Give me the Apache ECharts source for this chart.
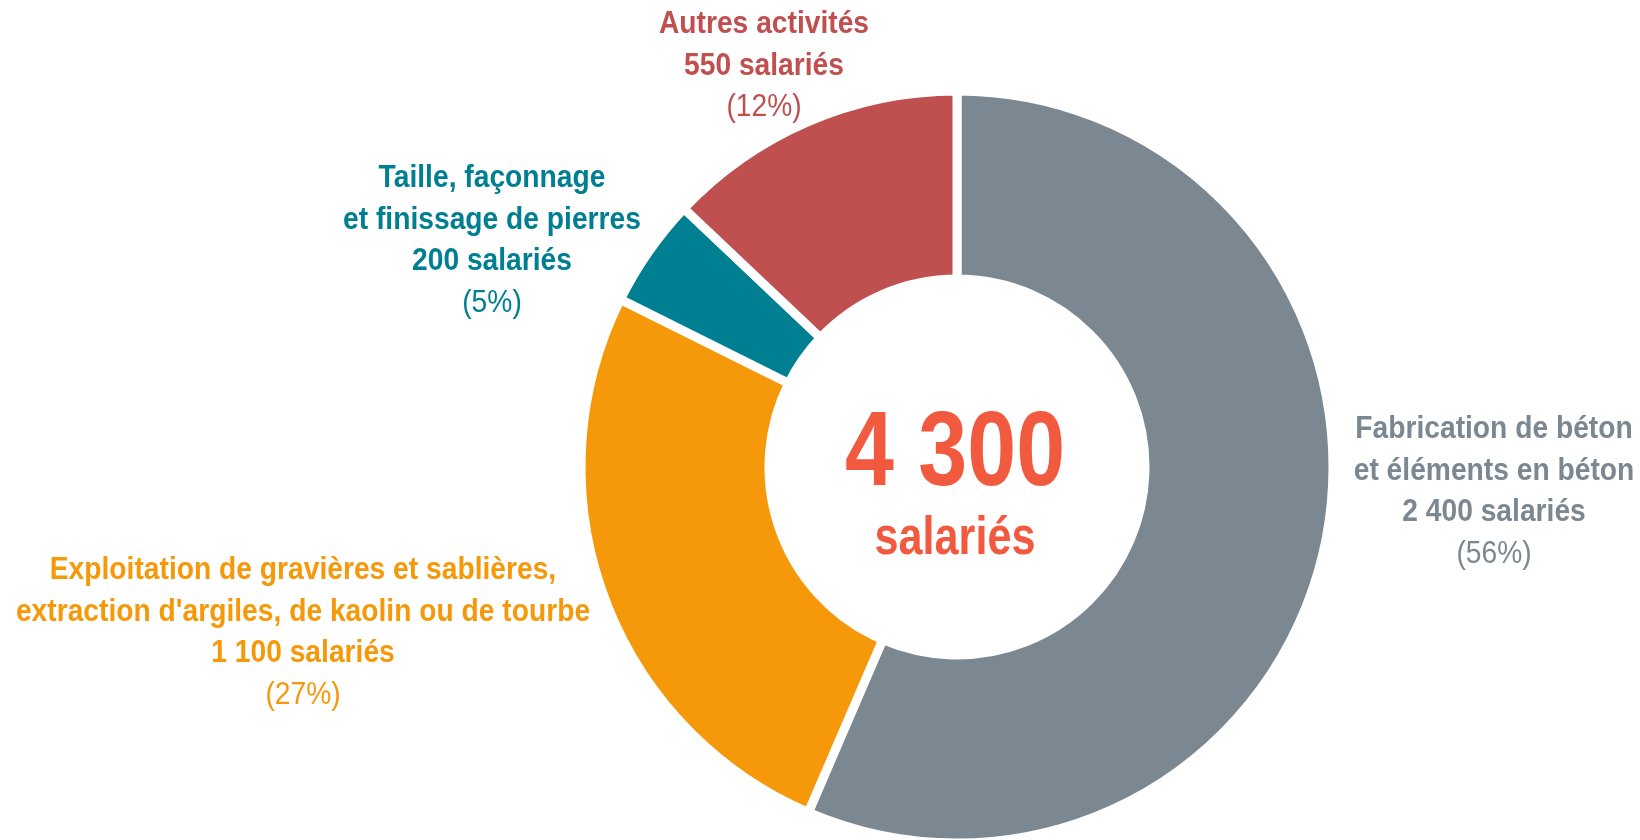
<!DOCTYPE html>
<html>
<head>
<meta charset="utf-8">
<script src="https://cdn.jsdelivr.net/npm/echarts@6/dist/echarts.min.js"></script>
<style>
  html, body { margin: 0; padding: 0; background: #ffffff; }
  #chart { width: 1640px; height: 840px; }
</style>
</head>
<body>
<div id="chart"></div>
<script>
// Employees by activity (clockwise from 12 o'clock)
const categories = [
  'Fabrication de béton\net éléments en béton',
  "Exploitation de gravières et sablières,\nextraction d'argiles, de kaolin ou de tourbe",
  'Taille, façonnage\net finissage de pierres',
  'Autres activités'
];
const employees = [2400, 1100, 200, 550];
const shares = [56, 27, 5, 12];
const totalEmployees = 4300;
const colors = ['#7b8891', '#f5990b', '#007f92', '#c0504f'];

// Label anchor points (top-centre of each text block)
const labelAnchors = [
  [1494, 409],
  [303, 550],
  [492, 158],
  [764, 4]
];

// Condensed look: Arial-metric sans squeezed horizontally
const FONT = '"Liberation Sans", Arial, sans-serif';
const LABEL_SQUEEZE = 0.91;

function fmt(n) {
  return String(n).replace(/\B(?=(\d{3})+(?!\d))/g, ' ');
}

function labelText(i) {
  const lines = categories[i].split('\n').map(l => '{b|' + l + '}');
  lines.push('{b|' + fmt(employees[i]) + ' salariés}');
  lines.push('{p|(' + shares[i] + '%)}');
  return lines.join('\n');
}

const chart = echarts.init(document.getElementById('chart'), null, { renderer: 'canvas' });

const labelGraphics = categories.map((c, i) => ({
  type: 'text',
  x: labelAnchors[i][0],
  y: labelAnchors[i][1],
  scaleX: LABEL_SQUEEZE,
  style: {
    text: labelText(i),
    align: 'center',
    verticalAlign: 'top',
    rich: {
      b: { fontFamily: FONT, fontWeight: 'bold', fontSize: 31, lineHeight: 41.5, fill: colors[i], align: 'center' },
      p: { fontFamily: FONT, fontWeight: 'normal', fontSize: 31, lineHeight: 41.5, fill: colors[i], align: 'center' }
    }
  }
}));

chart.setOption({
  animation: false,
  backgroundColor: '#ffffff',
  series: [{
    type: 'pie',
    center: [957, 467],
    radius: [188, 376],
    startAngle: 90,
    clockwise: true,
    itemStyle: { borderColor: '#ffffff', borderWidth: 9 },
    label: { show: false },
    labelLine: { show: false },
    emphasis: { disabled: true },
    data: categories.map((name, i) => ({
      name: name,
      value: employees[i],
      itemStyle: { color: colors[i] }
    }))
  }],
  graphic: labelGraphics.concat([
    {
      type: 'text',
      x: 955, y: 509,
      scaleX: 0.83,
      style: {
        text: fmt(totalEmployees),
        fontFamily: FONT, fontWeight: 'bold', fontSize: 106,
        fill: '#f15a3f', align: 'center', verticalAlign: 'bottom'
      }
    },
    {
      type: 'text',
      x: 955, y: 512,
      scaleX: 0.8,
      style: {
        text: 'salariés',
        fontFamily: FONT, fontWeight: 'bold', fontSize: 54,
        fill: '#f15a3f', align: 'center', verticalAlign: 'top'
      }
    }
  ])
});
</script>
</body>
</html>
